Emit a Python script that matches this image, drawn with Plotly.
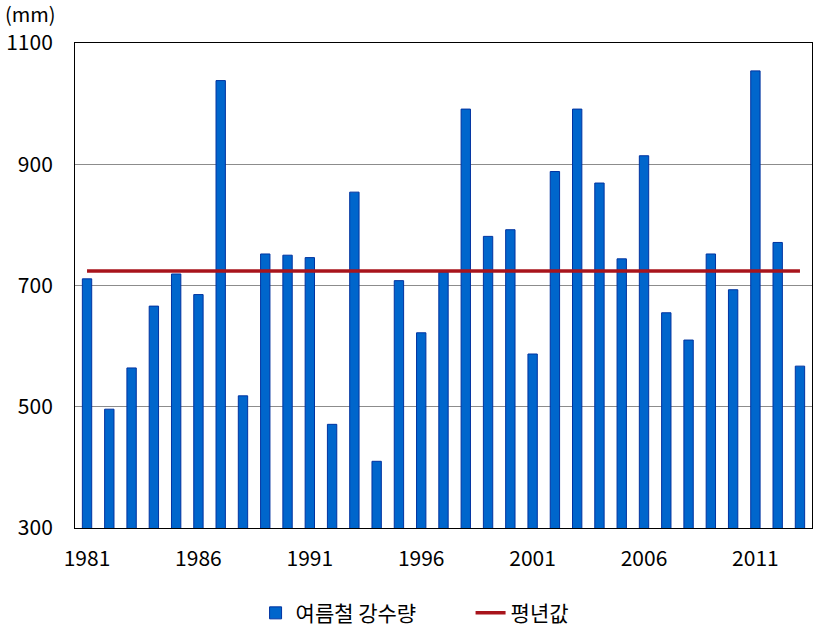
import plotly.graph_objects as go

years = list(range(1981, 2014))
rain = [711, 496, 564, 666, 719, 685, 1038, 518, 752, 750, 746, 471, 854, 410, 708,
        622, 722, 991, 781, 792, 587, 888, 991, 869, 744, 914, 655, 610, 752, 693,
        1054, 771, 567]
normal = [724] * len(years)
tick_years = [1981, 1986, 1991, 1996, 2001, 2006, 2011]
y_ticks = [300, 500, 700, 900, 1100]

FONT = "Noto Sans CJK KR"

fig = go.Figure()
fig.add_trace(go.Bar(
    x=years, y=rain, name="여름철 강수량",
    marker=dict(color="#0066CC", line=dict(color="#0033A0", width=1)),
    width=0.42,
))
fig.add_trace(go.Scatter(
    x=years, y=normal, name="평년값", mode="lines",
    line=dict(color="#A8141C", width=3.5),
))

fig.update_layout(
    width=815, height=627,
    margin=dict(l=75, r=3, t=43, b=99, autoexpand=False),
    paper_bgcolor="white", plot_bgcolor="white",
    font=dict(family=FONT, size=21, color="black"),
    bargap=0.58,
    showlegend=True,
    legend=dict(orientation="h", x=0.245, xanchor="left",
                yref="container", y=0.022, yanchor="middle",
                font=dict(size=21, family=FONT), itemwidth=30, tracegroupgap=0,
                entrywidth=170, borderwidth=0),
    xaxis=dict(
        range=[1980.46, 2013.54], tickmode="array", tickvals=tick_years,
        ticktext=[str(t) for t in tick_years], showgrid=False,
        showline=True, linecolor="black", linewidth=1, mirror=True,
        ticks="", ticklabelstandoff=12, tickfont=dict(size=21, family=FONT),
        zeroline=False,
    ),
    yaxis=dict(
        range=[300, 1100], tickmode="array", tickvals=y_ticks,
        ticktext=[str(t) for t in y_ticks],
        showgrid=True, gridcolor="#8C8C8C", gridwidth=1,
        showline=True, linecolor="black", linewidth=1, mirror=True,
        ticks="", ticklabelstandoff=17, tickfont=dict(size=21, family=FONT),
        zeroline=False,
    ),
    annotations=[dict(
        text="(mm)", xref="paper", yref="paper", x=0, y=1, xshift=-72, yshift=30,
        xanchor="left", yanchor="middle", showarrow=False,
        font=dict(size=20, family=FONT),
    )],
)

fig.write_html("out.html")
